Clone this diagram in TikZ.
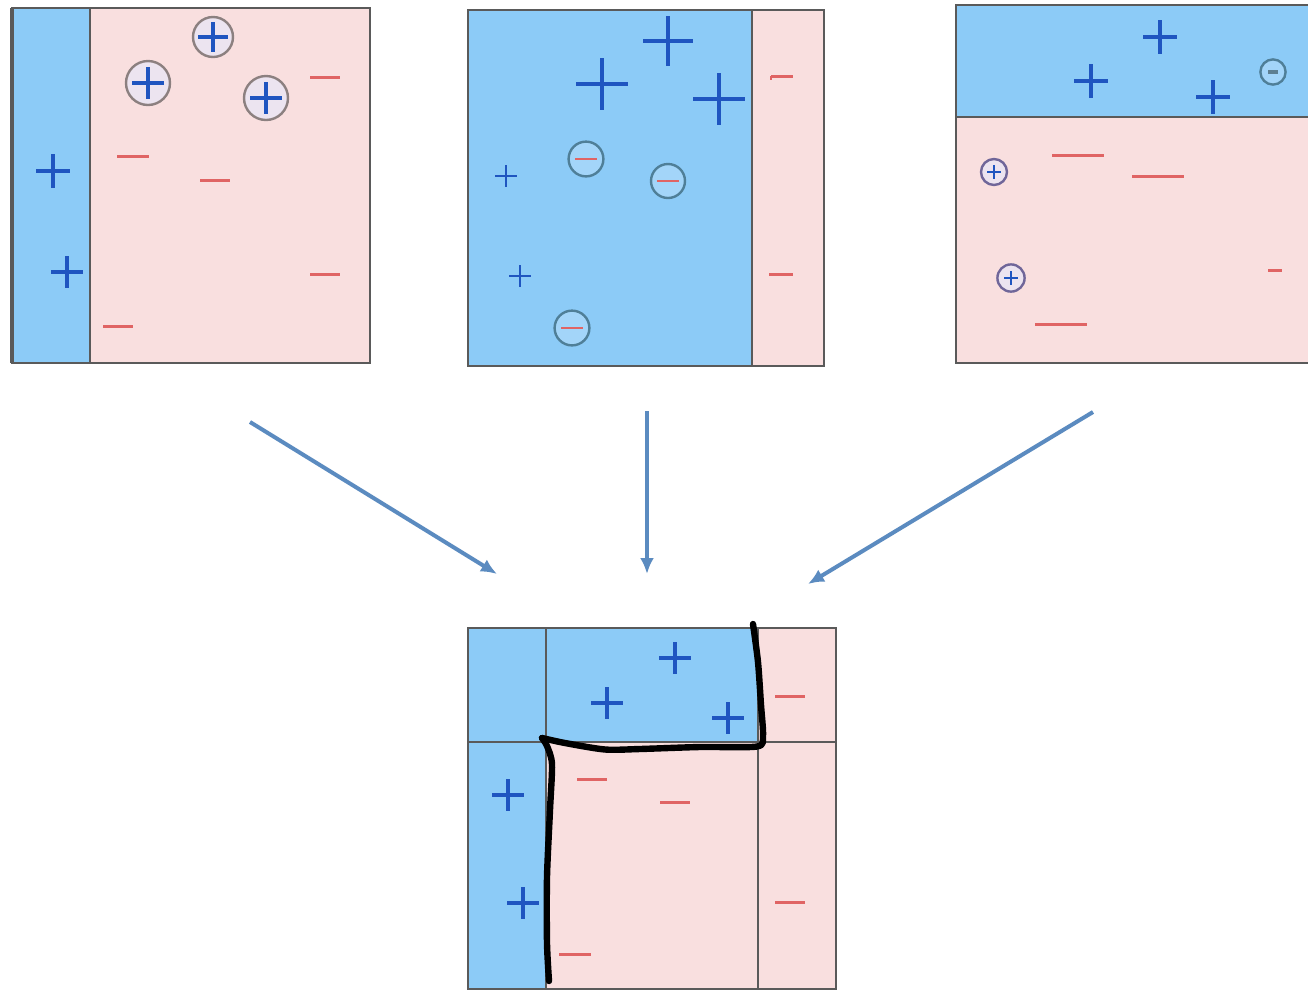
\documentclass[tikz,border=0pt]{standalone}
\usetikzlibrary{arrows.meta}
\definecolor{bluefill}{HTML}{8CCBF7}
\definecolor{pinkfill}{HTML}{F9DFDF}
\definecolor{plusblue}{HTML}{1F55C0}
\definecolor{minusred}{HTML}{E06464}
\definecolor{bordergray}{HTML}{5A5A5A}
\definecolor{arrowblue}{HTML}{5B8BC0}
\definecolor{circgray}{HTML}{8C8080}
\definecolor{circfill}{HTML}{ECE4F0}
\definecolor{circteal}{HTML}{4F7F98}
\tikzset{
  bord/.style={draw=bordergray, line width=0.9pt},
  plusmk/.style={draw=plusblue, line width=1.6pt},
  minusmk/.style={draw=minusred, line width=1.5pt},
  circp/.style={draw=circgray, fill=circfill, line width=1.2pt},
  circm/.style={draw=circteal, fill=bluefill!80!white, line width=1.2pt},
  flow/.style={draw=arrowblue, line width=2pt, -{Latex[length=8pt,width=7pt]}},
  boundary/.style={draw=black, line width=3.2pt, line cap=round, line join=round}
}
% \pmk[opts]{x}{y}{half}  plus sign
\newcommand{\pmk}[4][]{\draw[plusmk,#1] (#2-#4,#3) -- (#2+#4,#3) (#2,#3-#4) -- (#2,#3+#4);}
% \mmk[opts]{x}{y}{half}  minus sign
\newcommand{\mmk}[4][]{\draw[minusmk,#1] (#2-#4,#3) -- (#2+#4,#3);}
\begin{document}
\begin{tikzpicture}[x=0.5pt,y=-0.5pt]
\useasboundingbox (0,0) rectangle (1308,992);
\fill[white] (0,0) rectangle (1308,992);

% ---------- Panel 1 ----------
\fill[pinkfill] (12,8) rectangle (370,363);
\fill[bluefill] (12,8) rectangle (90,363);
\draw[bord] (90,8) -- (90,363);
\draw[bord] (12,8) rectangle (370,363);
\draw[draw=bordergray, line width=2pt] (12,8) -- (12,363);
\draw[circp] (213,37) circle[radius=10pt];
\pmk{213}{37}{15}
\draw[circp] (148,83) circle[radius=11pt];
\pmk{148}{83}{16}
\draw[circp] (266,98) circle[radius=11pt];
\pmk{266}{98}{16}
\pmk{53}{171}{17}
\pmk{67}{272}{16}
\mmk{325}{77}{15}
\mmk{133}{156}{16}
\mmk{215}{180}{15}
\mmk{325}{274}{15}
\mmk{118}{326}{15}

% ---------- Panel 2 ----------
\fill[pinkfill] (468,10) rectangle (824,366);
\fill[bluefill] (468,10) rectangle (752,366);
\draw[bord] (752,10) -- (752,366);
\draw[bord] (468,10) rectangle (824,366);
\pmk{668}{41}{25}
\pmk{602}{84}{26}
\pmk{719}{99}{26}
\draw[circm] (586,159) circle[radius=8.7pt];
\mmk[line width=1.3pt]{586}{159}{11}
\draw[circm] (668,181) circle[radius=8.5pt];
\mmk[line width=1.3pt]{668}{181}{11}
\draw[circm] (572,328) circle[radius=8.7pt];
\mmk[line width=1.3pt]{572}{328}{11}
\pmk[line width=1.3pt]{506}{176}{11}
\pmk[line width=1.3pt]{520}{276}{11}
\mmk{782}{76}{11}
\draw[minusred, line width=1.2pt] (771,76) -- (771,80);
\mmk{781}{274}{12}

% ---------- Panel 3 ----------
\fill[pinkfill] (956,5) rectangle (1308,363);
\fill[bluefill] (956,5) rectangle (1308,117);
\draw[bord] (956,117) -- (1308,117);
\draw[bord] (1308,5) -- (956,5) -- (956,363) -- (1308,363);
\draw[draw=bordergray, line width=1.4pt] (956,5) -- (956,363);
\pmk{1160}{37}{17}
\pmk{1091}{81}{17}
\pmk{1213}{97}{17}
\draw[circm] (1273,72) circle[radius=6.3pt];
\draw[draw=circteal!70!gray, line width=1.6pt] (1268,72) -- (1278,72);
\draw[circp, draw=circgray!80!blue] (994,172) circle[radius=6.5pt];
\pmk[line width=1.2pt]{994}{172}{7}
\draw[circp, draw=circgray!80!blue] (1011,278) circle[radius=6.8pt];
\pmk[line width=1.2pt]{1011}{278}{7}
\mmk{1078}{155}{26}
\mmk{1158}{176}{26}
\mmk{1275}{270}{7}
\mmk{1061}{324}{26}

% ---------- Arrows ----------
\coordinate (a1s) at (250,422);
\coordinate (a1e) at (497,574);
\coordinate (a2s) at (647,411);
\coordinate (a2e) at (647,574);
\coordinate (a3s) at (1093,412);
\coordinate (a3e) at (808,584);
\draw[flow] (a1s) -- (a1e);
\draw[flow] (a2s) -- (a2e);
\draw[flow] (a3s) -- (a3e);

% ---------- Bottom panel ----------
\fill[pinkfill] (468,628) rectangle (836,989);
\fill[bluefill] (468,628) rectangle (546,989);
\fill[bluefill] (546,628) rectangle (758,742);
\draw[bord] (468,742) -- (836,742);
\draw[bord] (546,628) -- (546,989);
\draw[bord] (758,628) -- (758,989);
\draw[bord] (468,628) rectangle (836,989);
\pmk{675}{658}{16}
\pmk{607}{703}{16}
\pmk{728}{718}{16}
\pmk{508}{795}{16}
\pmk{523}{903}{16}
\mmk{790}{696}{15}
\mmk{592}{779}{15}
\mmk{675}{802}{15}
\mmk{575}{954}{16}
\mmk{790}{902}{15}

% hand-drawn boundary
\draw[boundary] plot[smooth, tension=0.45] coordinates {
  (753,624) (758,662) (761,705) (763,736) (757,746.5) (700,747) (640,749) (605,749.5) (565,743) (542,738)};
\draw[boundary] plot[smooth, tension=0.45] coordinates {
  (542,738) (547,746) (552,764) (550,810) (547,877) (547,943) (549,981)};
\end{tikzpicture}
\end{document}
